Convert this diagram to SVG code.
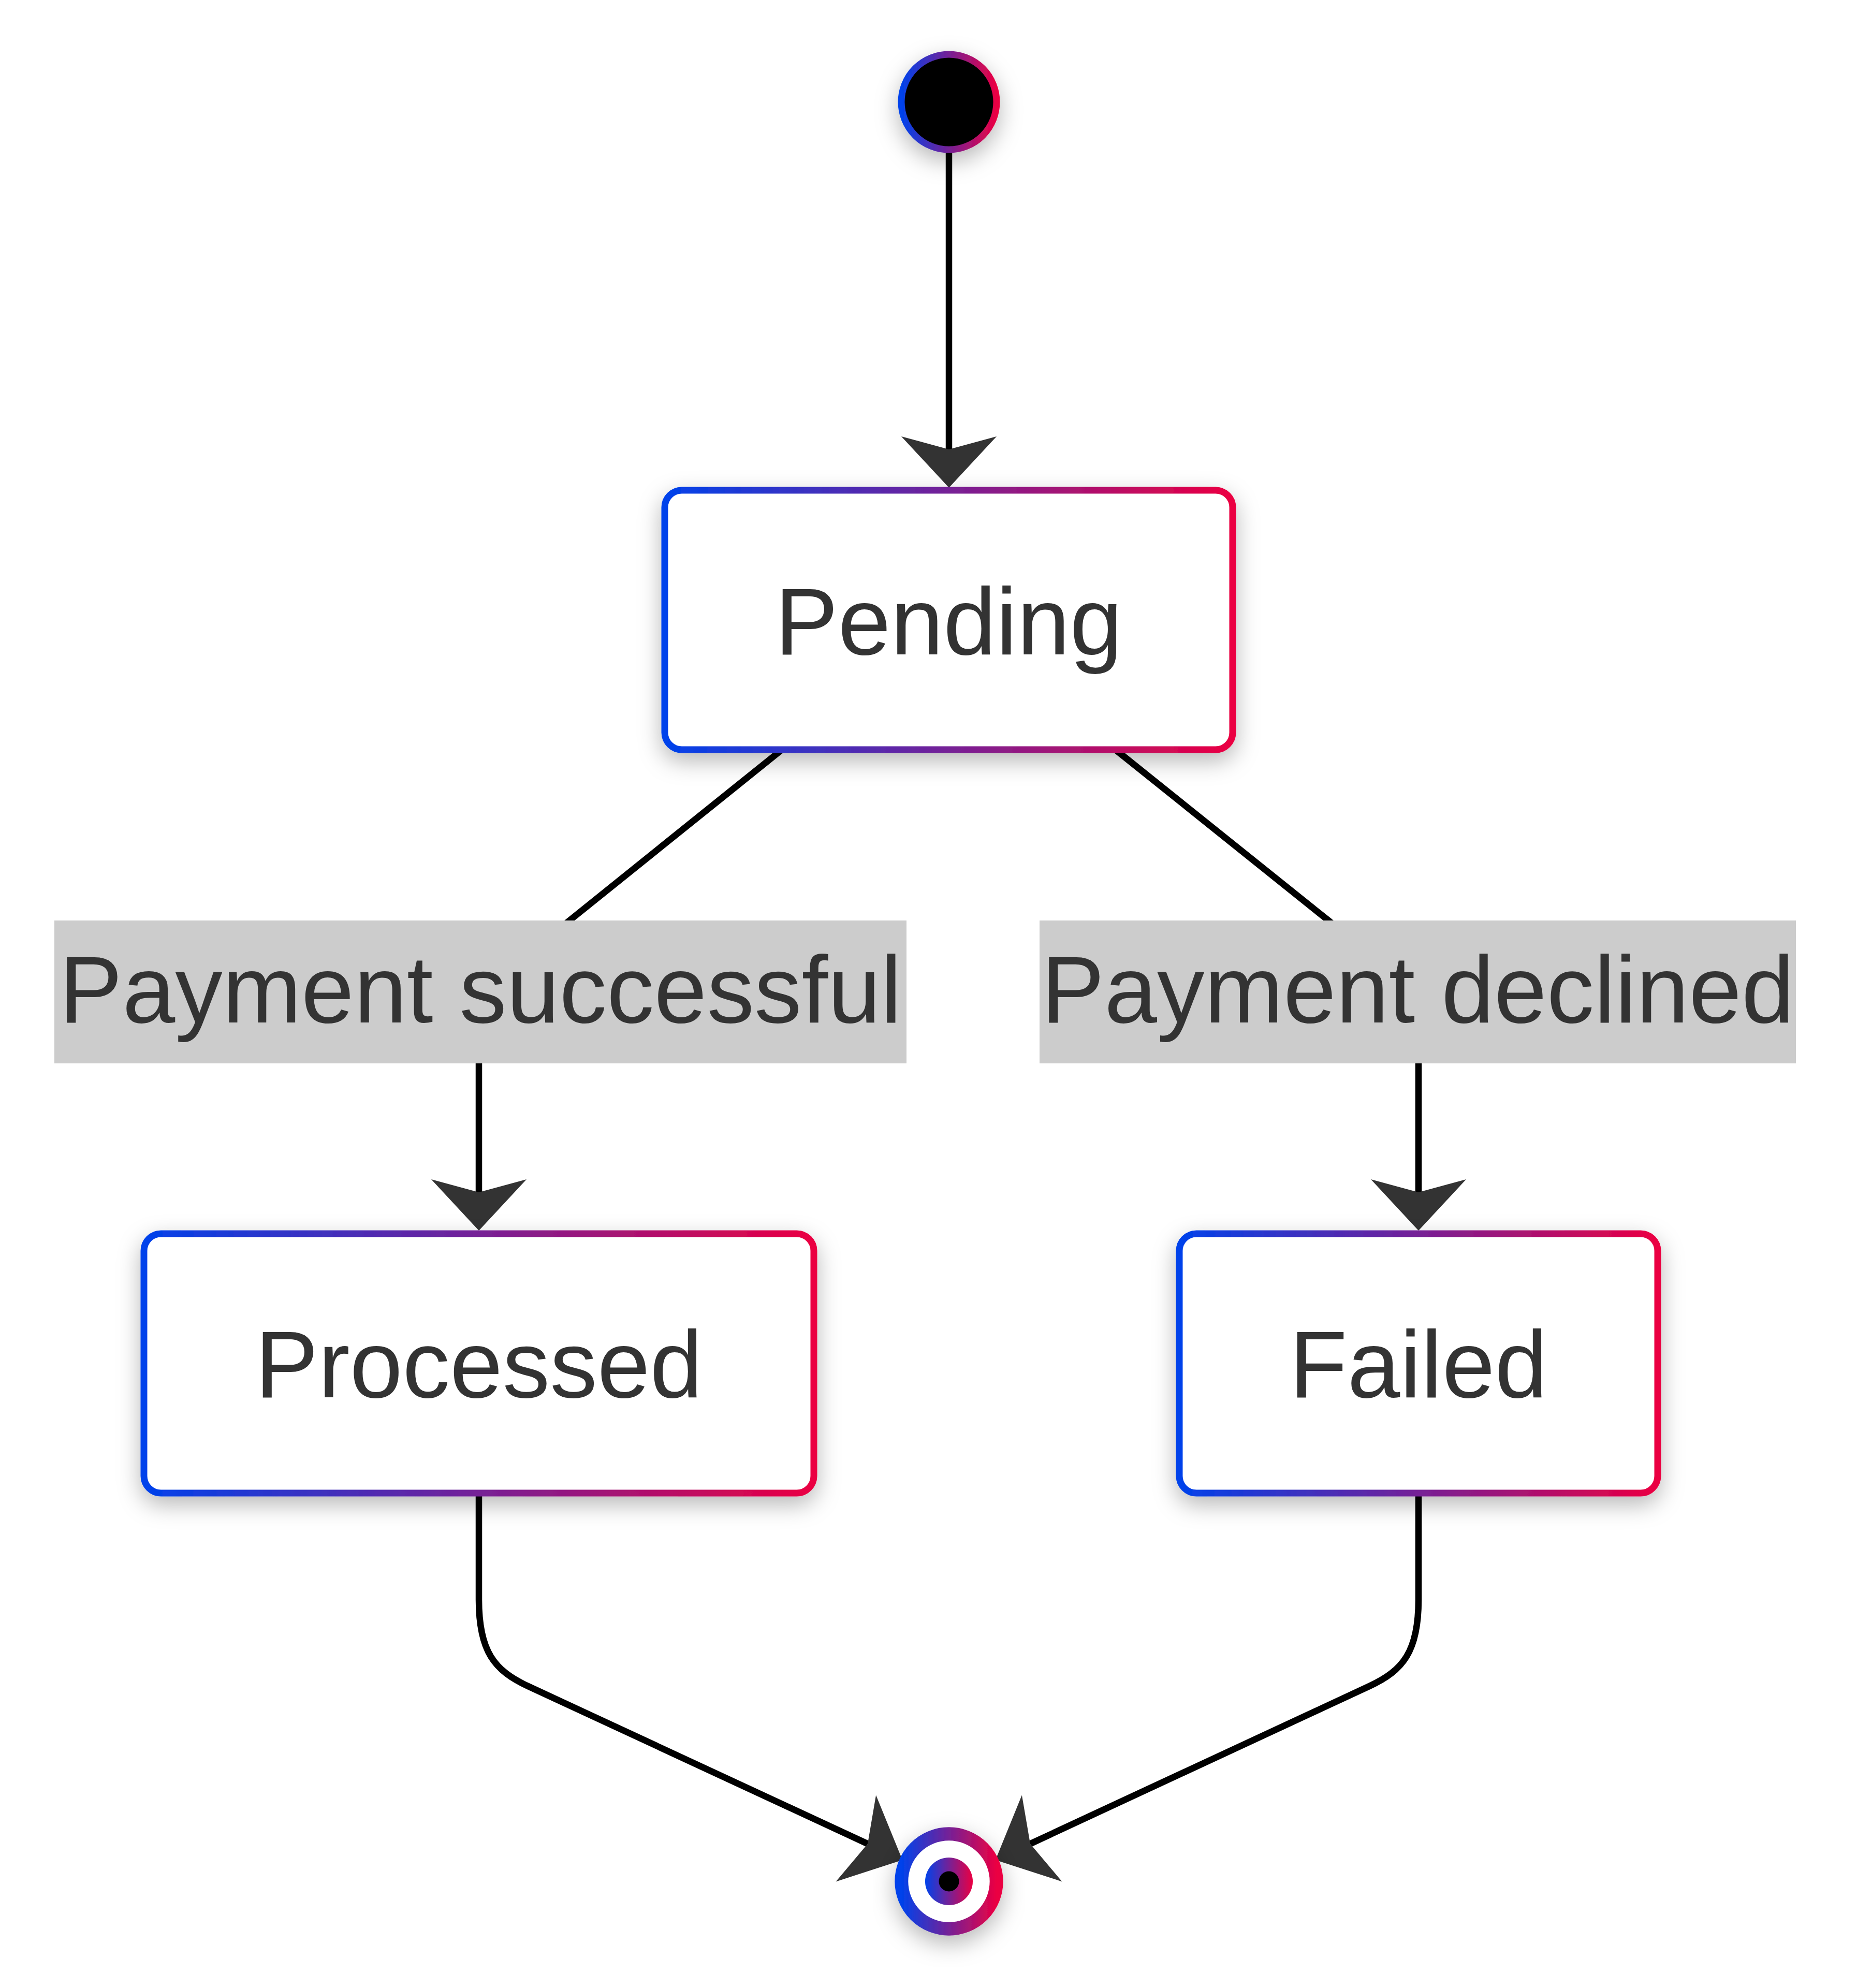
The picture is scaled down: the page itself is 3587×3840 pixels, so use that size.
<svg xmlns="http://www.w3.org/2000/svg" width="3587" height="3840" viewBox="0 0 3587 3840">
<style>
.state{fill:#ffffff;stroke:url(#grad);stroke-width:13;filter:url(#shadow)}
.lbl{font-family:"Liberation Sans",Arial,sans-serif;font-size:183px;fill:#333333;text-anchor:middle}
.edge{fill:none;stroke:#000000;stroke-width:12.5;marker-end:url(#arrow)}
.lblbg{fill:#cccccc}
</style>
<defs>
<linearGradient id="grad" x1="0" y1="0" x2="1" y2="0">
<stop offset="0" stop-color="#0042eb"/>
<stop offset="1" stop-color="#eb0042"/>
</linearGradient>
<filter id="shadow" x="-30%" y="-30%" width="160%" height="170%">
<feDropShadow dx="0" dy="16" stdDeviation="22" flood-color="#000000" flood-opacity="0.28"/>
</filter>
<marker id="arrow" markerUnits="userSpaceOnUse" viewBox="-100 -93 101 186" markerWidth="101" markerHeight="186" refX="-74" refY="0" orient="auto" overflow="visible">
<path d="M0,0 L-99,-92 L-74,0 L-99,92 Z" fill="#333333"/>
</marker>
</defs>

<g id="connectors">
<path class="edge" d="M1833,295 L1833,868"/>
<path class="edge" d="M1508,1450 L1100,1778 L1000,1860 Q925,1922 925,2000 L925,2303"/>
<path class="edge" d="M2157,1450 L2566,1778 L2666,1860 Q2740,1922 2740,2000 L2740,2303"/>
<path class="edge" d="M925,2884 L925,3090 C925,3190 955,3227 1020,3257 L1676,3561.5"/>
<path class="edge" d="M2740,2884 L2740,3090 C2740,3190 2710,3227 2645,3257 L1990,3561.5"/>
</g>

<g id="label-successful">
<rect class="lblbg" x="105" y="1778" width="1646" height="276"/>
<text class="lbl" x="928" y="1975">Payment successful</text>
</g>
<g id="label-declined">
<rect class="lblbg" x="2008" y="1778" width="1461" height="276"/>
<text class="lbl" x="2738.5" y="1975">Payment declined</text>
</g>

<g id="start">
<circle cx="1833" cy="197" r="92" fill="#000000" stroke="url(#grad)" stroke-width="13" filter="url(#shadow)"/>
</g>

<g id="pending">
<rect class="state" x="1284" y="947" width="1097" height="501" rx="33" ry="33"/>
<text class="lbl" x="1832.5" y="1264">Pending</text>
</g>

<g id="processed">
<rect class="state" x="278" y="2383" width="1294" height="501" rx="33" ry="33"/>
<text class="lbl" x="925" y="2699">Processed</text>
</g>

<g id="failed">
<rect class="state" x="2278" y="2383" width="924" height="501" rx="33" ry="33"/>
<text class="lbl" x="2740" y="2699">Failed</text>
</g>

<g id="end">
<circle cx="1833" cy="3634" r="91.7" fill="#ffffff" stroke="url(#grad)" stroke-width="26" filter="url(#shadow)"/>
<circle cx="1833" cy="3634" r="46" fill="url(#grad)"/>
<circle cx="1833" cy="3634" r="19.5" fill="#000000"/>
</g>
</svg>
